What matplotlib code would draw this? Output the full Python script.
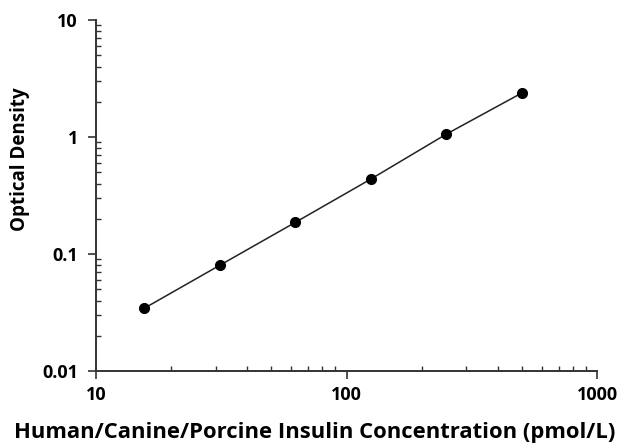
import numpy as np
import matplotlib
matplotlib.use("Agg")
import matplotlib.pyplot as plt
from matplotlib.ticker import LogLocator, FixedLocator, NullFormatter

# standard curve data
concentration = [15.6, 31.25, 62.5, 125, 250, 500]
optical_density = [0.0345, 0.0805, 0.187, 0.438, 1.06, 2.38]

x_ticks = [10, 100, 1000]
x_tick_labels = ['10', '100', '1000']
y_ticks = [0.01, 0.1, 1, 10]
y_tick_labels = ['0.01', '0.1', '1', '10']

plt.rcParams['font.family'] = ['Open Sans', 'DejaVu Sans']

fig = plt.figure(figsize=(6.19, 4.44), dpi=100)
ax = fig.add_axes([0.155, 0.164, 0.81, 0.791])

ax.plot(concentration, optical_density, color='#222222', linewidth=1.1, zorder=2)
ax.plot(concentration, optical_density, 'o', color='black', markersize=7, zorder=3)

ax.set_xscale('log')
ax.set_yscale('log')
ax.set_xlim(10, 1000)
ax.set_ylim(0.01, 10)

ax.xaxis.set_major_locator(FixedLocator(x_ticks))
ax.set_xticklabels(x_tick_labels)
ax.yaxis.set_major_locator(FixedLocator(y_ticks))
ax.set_yticklabels(y_tick_labels)
ax.xaxis.set_minor_locator(LogLocator(base=10, subs=np.arange(2, 10)))
ax.yaxis.set_minor_locator(LogLocator(base=10, subs=np.arange(2, 10)))
ax.xaxis.set_minor_formatter(NullFormatter())
ax.yaxis.set_minor_formatter(NullFormatter())

ax.spines['top'].set_visible(False)
ax.spines['right'].set_visible(False)
for s in ['left', 'bottom']:
    ax.spines[s].set_color('#333333')
    ax.spines[s].set_linewidth(1.4)

ax.tick_params(which='major', direction='out', length=6, width=1.2, color='#333333',
               labelsize=13)
ax.tick_params(axis='x', which='major', pad=5)
ax.tick_params(axis='y', which='major', pad=7)
ax.tick_params(which='minor', direction='in', length=3.5, width=1.0, color='#333333')
for lbl in ax.get_xticklabels() + ax.get_yticklabels():
    lbl.set_fontweight('bold')

ax.set_xlabel('Human/Canine/Porcine Insulin Concentration (pmol/L)', fontsize=15.8,
              fontweight='bold', va='center')
ax.xaxis.set_label_coords(0.437, -0.176)
ax.set_ylabel('Optical Density', fontsize=13.5, fontweight='bold', va='center')
ax.yaxis.set_label_coords(-0.152, 0.604)

fig.savefig('out.png', dpi=100, facecolor='white')
